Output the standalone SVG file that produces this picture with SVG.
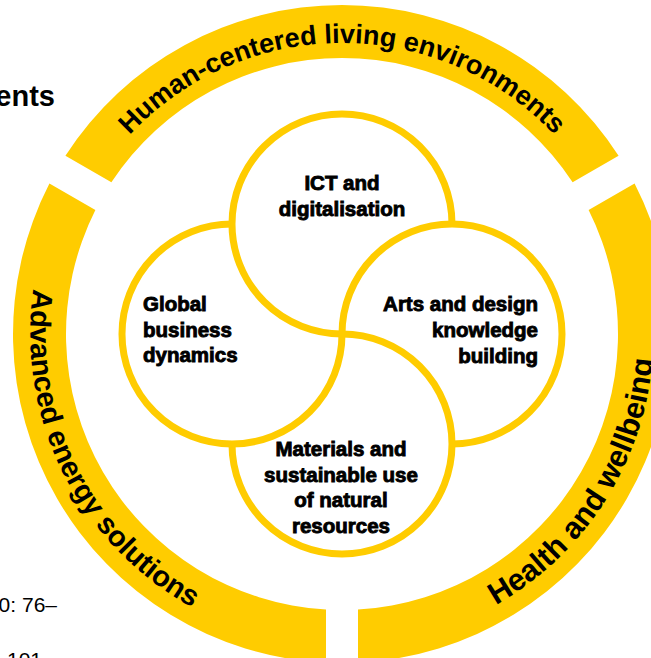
<svg xmlns="http://www.w3.org/2000/svg" width="651" height="658" viewBox="0 0 651 658">
<style>
.seg{fill:#FFCC00;stroke:none}
.ring{fill:none;stroke:#FFCC00;stroke-width:7}
.rt{font-family:"Liberation Sans",Arial,sans-serif;font-weight:bold;fill:#000}
.ct{font-family:"Liberation Sans",Arial,sans-serif;font-weight:bold;font-size:20.5px;fill:#000;stroke:#000;stroke-width:0.9}
.bg{font-family:"Liberation Sans",Arial,sans-serif;fill:#000}
</style>
<defs>
<path id="pTop" d="M51,334 A291,291 0 0 1 633,334"/>
<path id="pLeft" d="M179,68 A312,312 0 0 0 456.3,624.3"/>
<path id="pRight" d="M197.9,610.7 A312,312 0 0 0 531.9,86.5"/>
</defs>
<g id="background-text">
<text class="bg" x="55" y="106" font-size="29" font-weight="bold" text-anchor="end">ents</text>
<text class="bg" x="57" y="612" font-size="21" text-anchor="end">0: 76–</text>
<text class="bg" x="7" y="667" font-size="21">101</text>
</g>
<g id="ring-top">
<path class="seg" d="M65.42,155.84 A329,329 0 0 1 618.58,155.84 L572.62,182.37 A276,276 0 0 0 111.38,182.37 Z"/>
<text class="rt" font-size="27"><textPath href="#pTop" startOffset="50%" text-anchor="middle">Human-centered living environments</textPath></text>
</g>
<g id="ring-left">
<path class="seg" d="M49.42,183.55 A329,329 0 0 0 326,662.61 L326,609.54 A276,276 0 0 1 95.38,210.09 Z"/>
<text class="rt" font-size="29"><textPath href="#pLeft" startOffset="50%" text-anchor="middle">Advanced energy solutions</textPath></text>
</g>
<g id="ring-right">
<path class="seg" d="M358,662.61 A329,329 0 0 0 634.58,183.55 L588.62,210.09 A276,276 0 0 1 358,609.54 Z"/>
<text class="rt" font-size="30.5"><textPath href="#pRight" startOffset="50%" text-anchor="middle">Health and wellbeing</textPath></text>
</g>
<g id="connectors">
<path class="ring" d="M452,224 A110,110 0 1 0 342,334"/>
<path class="ring" d="M452,444 A110,110 0 1 0 342,334"/>
<path class="ring" d="M232,444 A110,110 0 1 0 342,334"/>
<path class="ring" d="M232,224 A110,110 0 1 0 342,334"/>
</g>
<g id="node-ict">
<text class="ct" x="342" y="190" text-anchor="middle">ICT and</text>
<text class="ct" x="342" y="216" text-anchor="middle">digitalisation</text>
</g>
<g id="node-global">
<text class="ct" x="143" y="311">Global</text>
<text class="ct" x="143" y="337">business</text>
<text class="ct" x="143" y="362">dynamics</text>
</g>
<g id="node-arts">
<text class="ct" x="538" y="311" text-anchor="end">Arts and design</text>
<text class="ct" x="538" y="337" text-anchor="end">knowledge</text>
<text class="ct" x="538" y="363" text-anchor="end">building</text>
</g>
<g id="node-materials">
<text class="ct" x="341" y="456" text-anchor="middle">Materials and</text>
<text class="ct" x="341" y="482" text-anchor="middle">sustainable use</text>
<text class="ct" x="341" y="507" text-anchor="middle">of natural</text>
<text class="ct" x="341" y="533" text-anchor="middle">resources</text>
</g>
</svg>
